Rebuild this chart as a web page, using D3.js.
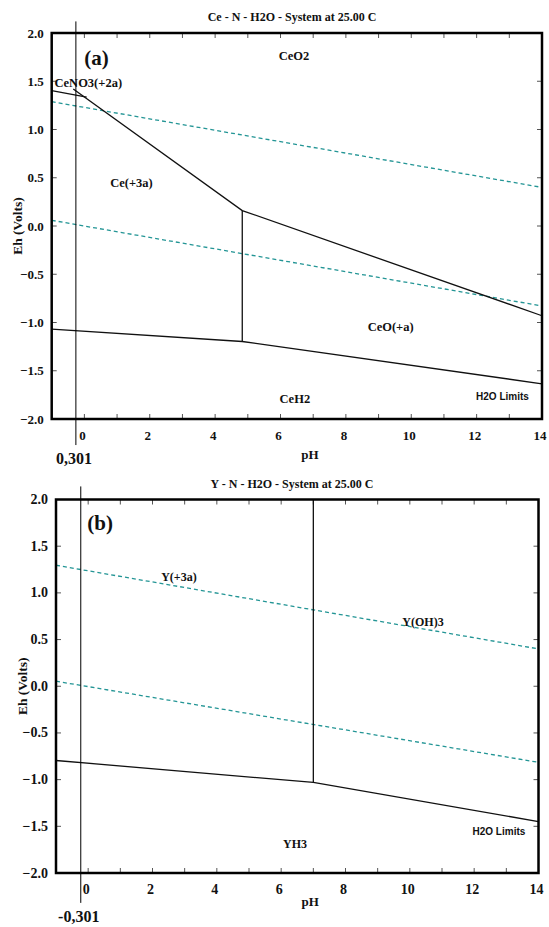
<!DOCTYPE html>
<html>
<head>
<meta charset="utf-8">
<script src="https://cdn.jsdelivr.net/npm/d3@7"></script>
<style>
  body { margin: 0; background: #fff; }
  svg { display: block; }
  text { font-family: "Liberation Serif", "Times New Roman", serif; font-weight: bold; fill: #111; }
  .sans { font-family: "Liberation Sans", Arial, sans-serif; }
</style>
</head>
<body>
<div id="chart"></div>
<script>
// --- data -------------------------------------------------------------
var phTicks = [0, 2, 4, 6, 8, 10, 12, 14];
var ehTicks = [2.0, 1.5, 1.0, 0.5, 0.0, -0.5, -1.0, -1.5, -2.0];

// water stability limits (dashed)
var waterA = [[[-1, 1.288], [14, 0.400]], [[-1, 0.059], [14, -0.829]]];
var waterB = [[[-1, 1.296], [14, 0.400]], [[-1, 0.054], [14, -0.815]]];

// species boundaries (solid)
var ceLines = [
  [[-1, 1.404], [0.07, 1.336]],
  [[-0.34, 1.42], [4.83, 0.16], [14, -0.93]],
  [[4.83, 0.16], [4.83, -1.197]],
  [[-1, -1.068], [4.83, -1.197], [14, -1.635]]
];
var yLines = [
  [[7.0, 2.0], [7.0, -1.03]],
  [[-1, -0.795], [7.0, -1.03], [14, -1.449]]
];

// species labels [text, pH, Eh]
var ceLabels = [["CeO2", 6.41, 1.72], ["CeNO3(+2a)", 0.12, 1.44], ["Ce(+3a)", 1.44, 0.40],
                ["CeO(+a)", 9.37, -1.09], ["CeH2", 6.44, -1.83]];
var yLabels = [["Y(+3a)", 2.82, 1.13], ["Y(OH)3", 10.41, 0.65], ["YH3", 6.43, -1.73]];

var panels = [
  { title: "Ce - N - H2O - System at 25.00 C", tag: "(a)", left: 51.7, right: 542, top: 33, bottom: 419,
    titleY: 21, water: waterA, lines: ceLines, labels: ceLabels, limits: [12.79, -1.80],
    marker: { ph: -0.26, lo: -2.27, hi: 2.12, text: "0,301" }, tickSize: 13, labelSize: 12.5, phGap: 40, ehGap: 35 },
  { title: "Y - N - H2O - System at 25.00 C", tag: "(b)", left: 56, right: 538.5, top: 499.5, bottom: 873,
    titleY: 488, water: waterB, lines: yLines, labels: yLabels, limits: [12.77, -1.59],
    marker: { ph: -0.23, lo: -2.32, hi: 2.14, text: "-0,301" }, tickSize: 14, labelSize: 12, phGap: 33, ehGap: 34 }
];

var svg = d3.select("#chart").append("svg")
  .attr("width", 549)
  .attr("height", 927);

panels.forEach(drawPanel);

function drawPanel(p) {
  var x = d3.scaleLinear().domain([-1, 14]).range([p.left, p.right]);
  var y = d3.scaleLinear().domain([-2, 2]).range([p.bottom, p.top]);
  var line = d3.line().x(function(d) { return x(d[0]); }).y(function(d) { return y(d[1]); });
  var g = svg.append("g");

  // title
  g.append("text").attr("x", 292).attr("y", p.titleY)
    .attr("text-anchor", "middle").style("font-size", "12px").text(p.title);

  // inside ticks, every pH unit / 0.5 V
  var minor = d3.range(0, 14, 1);
  g.selectAll(".tb").data(minor).enter().append("line")
    .attr("x1", function(d) { return x(d); }).attr("x2", function(d) { return x(d); })
    .attr("y1", p.bottom).attr("y2", p.bottom - 5)
    .attr("stroke", "#555").attr("stroke-width", 1);
  g.selectAll(".tt").data(minor).enter().append("line")
    .attr("x1", function(d) { return x(d); }).attr("x2", function(d) { return x(d); })
    .attr("y1", p.top).attr("y2", p.top + 5)
    .attr("stroke", "#555").attr("stroke-width", 1);
  g.selectAll(".tl").data(ehTicks).enter().append("line")
    .attr("x1", p.left).attr("x2", p.left + 5)
    .attr("y1", function(d) { return y(d); }).attr("y2", function(d) { return y(d); })
    .attr("stroke", "#555").attr("stroke-width", 1);
  g.selectAll(".tr").data(ehTicks).enter().append("line")
    .attr("x1", p.right).attr("x2", p.right - 5)
    .attr("y1", function(d) { return y(d); }).attr("y2", function(d) { return y(d); })
    .attr("stroke", "#555").attr("stroke-width", 1);

  // tick labels
  g.selectAll(".xl").data(phTicks).enter().append("text")
    .attr("x", function(d) { return x(d) - 2; }).attr("y", p.bottom + 21)
    .attr("text-anchor", "middle").style("font-size", p.tickSize + "px")
    .text(function(d) { return d; });
  g.selectAll(".yl").data(ehTicks).enter().append("text")
    .attr("x", p.left - 8).attr("y", function(d) { return y(d) + 4.5; })
    .attr("text-anchor", "end").style("font-size", p.tickSize + "px")
    .text(d3.format(".1f"));

  // axis titles
  g.append("text").attr("x", x(6.9)).attr("y", p.bottom + p.phGap)
    .attr("text-anchor", "middle").style("font-size", "13px").text("pH");
  var cy = (p.top + p.bottom) / 2;
  g.append("text").attr("transform", "translate(" + (p.left - p.ehGap + 5) + "," + cy + ") rotate(-90)")
    .attr("text-anchor", "middle").style("font-size", "13.5px").text("Eh (Volts)");
  // (+5: rotated baseline sits right of the glyph centre)

  // water limits
  g.selectAll(".water").data(p.water).enter().append("path")
    .attr("d", line).attr("fill", "none")
    .attr("stroke", "#239595").attr("stroke-width", 1.3).attr("stroke-dasharray", "4,3");

  // boundaries
  g.selectAll(".bd").data(p.lines).enter().append("path")
    .attr("d", line).attr("fill", "none")
    .attr("stroke", "#111").attr("stroke-width", 1.3);

  // labels
  g.selectAll(".sp").data(p.labels).enter().append("text")
    .attr("x", function(d) { return x(d[1]); }).attr("y", function(d) { return y(d[2]); })
    .attr("text-anchor", "middle").style("font-size", p.labelSize + "px")
    .text(function(d) { return d[0]; });
  g.append("text").attr("class", "sans")
    .attr("x", x(p.limits[0])).attr("y", y(p.limits[1]))
    .attr("text-anchor", "middle").style("font-size", "10px").text("H2O Limits");

  g.append("text").attr("x", x(0.37)).attr("y", y(1.67))
    .attr("text-anchor", "middle").style("font-size", "21px").text(p.tag);

  // frame
  g.append("rect").attr("x", p.left).attr("y", p.top)
    .attr("width", p.right - p.left).attr("height", p.bottom - p.top)
    .attr("fill", "none").attr("stroke", "#000").attr("stroke-width", 2.5);

  // hand-drawn marker line
  var m = p.marker;
  g.append("line")
    .attr("x1", x(m.ph)).attr("x2", x(m.ph))
    .attr("y1", y(m.hi)).attr("y2", y(m.lo))
    .attr("stroke", "#000").attr("stroke-width", 1);
  g.append("text").attr("x", x(m.ph) - 2).attr("y", y(m.lo) + 19)
    .attr("text-anchor", "middle").style("font-size", "16px").text(m.text);
}
</script>
</body>
</html>
